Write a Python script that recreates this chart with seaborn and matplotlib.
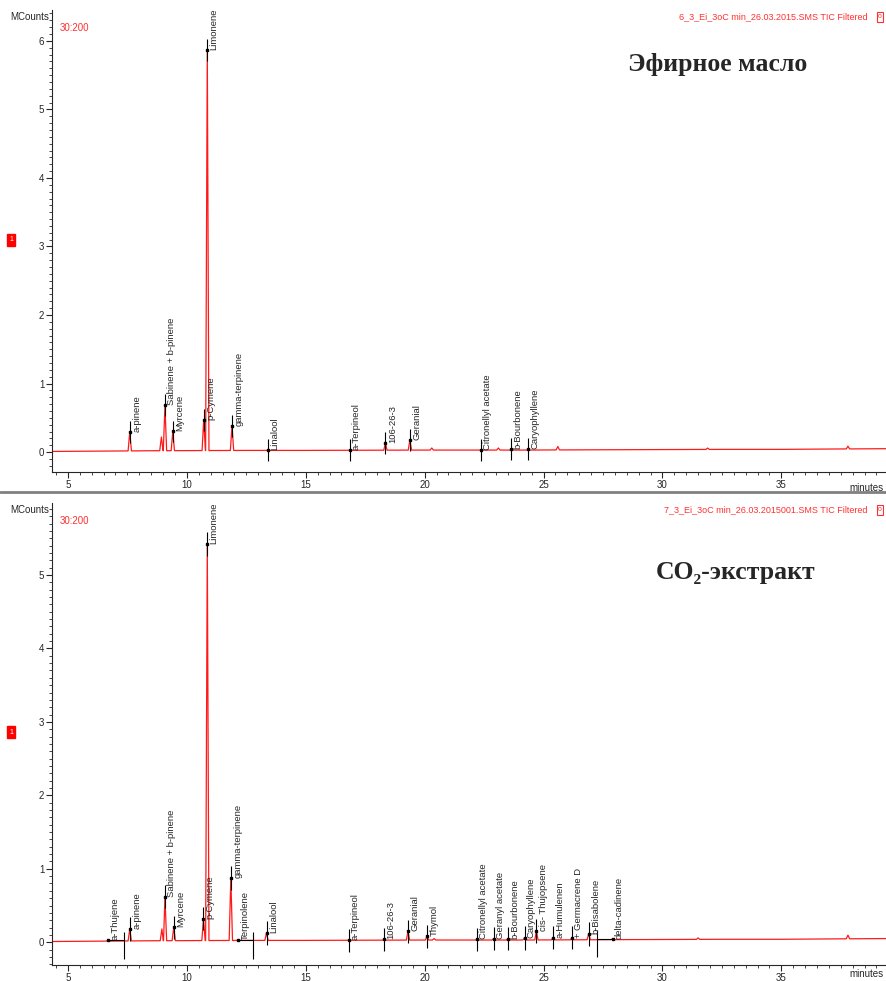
import numpy as np
import pandas as pd
import matplotlib
matplotlib.use("Agg")
import matplotlib.pyplot as plt
import seaborn as sns
from matplotlib.ticker import MultipleLocator

# cromatograma 1 (arriba): picos con etiqueta
top_names = ["a-pinene", "Sabinene + b-pinene", "Myrcene", "p-Cymene", "Limonene",
             "gamma-terpinene", "Linalool", "a-Terpineol", "106-26-3", "Geranial",
             "Citronellyl acetate", "b-Bourbonene", "Caryophyllene"]
top_rt = [7.6, 9.08, 9.41, 10.71, 10.86, 11.9, 13.4, 16.85, 18.35, 19.38, 22.35, 23.65, 24.35]
top_h = [0.28, 0.66, 0.28, 0.45, 5.85, 0.36, 0.0, 0.0, 0.1, 0.15, 0.0, 0.01, 0.01]
top_line_rt = top_rt  # posicion de la marca vertical
# picos sin etiqueta
top_extra_rt = [8.93, 20.3, 23.1, 25.6, 31.9, 37.8]
top_extra_h = [0.2, 0.03, 0.03, 0.05, 0.02, 0.04]
# linea base
top_base_t = [4.33, 6.5, 8.5, 12.5, 15.0, 20.0, 24.0, 28.0, 32.5, 35.0, 37.0, 39.4]
top_base_y = [0.01, 0.015, 0.02, 0.025, 0.025, 0.03, 0.03, 0.035, 0.04, 0.04, 0.045, 0.05]

# cromatograma 2 (abajo)
bot_names = ["a-Thujene", "a-pinene", "Sabinene + b-pinene", "Myrcene", "p-Cymene", "Limonene",
             "gamma-terpinene", "Terpinolene", "Linalool", "a-Terpineol", "106-26-3", "Geranial",
             "Thymol", "Citronellyl acetate", "Geranyl acetate", "b-Bourbonene", "Caryophyllene",
             "cis- Thujopsene", "a-Humulenen", "+ Germacrene D", "b-Bisabolene", "delta-cadinene"]
bot_rt = [6.68, 7.6, 9.08, 9.45, 10.7, 10.86, 11.85, 12.15, 13.35, 16.8, 18.3, 19.3,
          20.1, 22.2, 22.9, 23.5, 24.2, 24.7, 25.4, 26.2, 26.9, 27.9]
bot_h = [0.01, 0.16, 0.6, 0.18, 0.3, 5.4, 0.85, 0.0, 0.1, 0.0, 0.01, 0.12,
         0.05, 0.01, 0.02, 0.02, 0.03, 0.12, 0.03, 0.03, 0.08, 0.01]
bot_line_rt = [7.35, 7.6, 9.08, 9.45, 10.7, 10.86, 11.85, 12.8, 13.35, 16.8, 18.3, 19.3,
               20.1, 22.2, 22.9, 23.5, 24.2, 24.7, 25.4, 26.2, 26.9, 27.26]
bot_extra_rt = [8.95, 20.4, 31.5, 37.8]
bot_extra_h = [0.16, 0.02, 0.02, 0.05]
bot_base_t = [4.33, 6.5, 8.5, 12.5, 15.0, 20.0, 24.0, 28.0, 32.5, 35.0, 37.0, 39.4]
bot_base_y = [0.01, 0.015, 0.02, 0.025, 0.025, 0.03, 0.03, 0.035, 0.04, 0.04, 0.045, 0.05]

headers = ["6_3_Ei_3oC min_26.03.2015.SMS TIC Filtered",
           "7_3_Ei_3oC min_26.03.2015001.SMS TIC Filtered"]
titles = ["Эфирное масло", "CO₂-экстракт"]

sns.set_style("ticks")
plt.rcParams['font.family'] = ['Liberation Sans', 'DejaVu Sans']

fig = plt.figure(figsize=(8.86, 9.81), dpi=100)
W, H = 886, 981


def trace(rt, h, ert, eh, bt, by, w=0.07):
    # pico = triangulo estrecho sobre la linea base
    t = list(bt)
    y = list(by)
    for r, v in zip(list(rt) + list(ert), list(h) + list(eh)):
        b = np.interp(r, bt, by)
        t += [r - w, r, r + w]
        y += [b, b + v, b]
    return pd.DataFrame({"t": t, "y": y})


def panel(box, rt, h, lrt, ert, eh, bt, by, names, ylim, ymax_tick, header, title, title_y,
          marker_y):
    ax = fig.add_axes(box)
    df = trace(rt, h, ert, eh, bt, by)
    sns.lineplot(data=df, x="t", y="y", sort=True, estimator=None, color="#ff1a1a",
                 lw=0.9, ax=ax)
    base = np.interp(rt, bt, by)
    for r, v, b, n, lr in zip(rt, h, base, names, lrt):
        top = b + v
        if lr != r:
            # marca desplazada: linea vertical + tramo horizontal hasta el pico
            ax.vlines(lr, top - 0.25, top + 0.12, color="k", lw=0.8)
            ax.hlines(top, min(r, lr), max(r, lr), color="k", lw=0.8)
        else:
            ax.vlines(r, top - 0.16, top + 0.16, color="k", lw=0.8)
        ax.plot(r, top, "s", color="k", ms=2)
        ax.text(r + 0.1, top, n, rotation=90, va="bottom", ha="left", fontsize=6.8)
    ax.set_xlim(4.33, 39.4)
    ax.set_ylim(*ylim)
    ax.xaxis.set_major_locator(MultipleLocator(5))
    ax.xaxis.set_minor_locator(MultipleLocator(0.5))
    ax.set_yticks(range(0, ymax_tick + 1))
    ax.yaxis.set_minor_locator(MultipleLocator(0.1))
    ax.tick_params(which="major", length=4, width=0.8, labelsize=7, pad=1.5)
    ax.tick_params(which="minor", length=2, width=0.6)
    ax.set_xlabel("")
    ax.set_ylabel("")
    sns.despine(ax=ax)
    for s in ["left", "bottom"]:
        ax.spines[s].set_linewidth(0.8)
    # textos
    ax_top = 1 - box[1] - box[3]
    fig.text(10 / W, 1 - (ax_top * H + 2) / H, "MCounts", fontsize=7, va="top", ha="left")
    fig.text(60 / W, 1 - (ax_top * H + 18) / H, "30:200", fontsize=7, color="#ff3030",
             va="center", ha="left")
    fig.text(868 / W, 1 - (ax_top * H + 7) / H, header, fontsize=6.5, color="#ff3030",
             va="center", ha="right")
    fig.text(880 / W, 1 - (ax_top * H + 7) / H, "o", fontsize=5, color="#ff3030",
             va="center", ha="center",
             bbox=dict(boxstyle="square,pad=0.15", fc="white", ec="#ff3030", lw=0.8))
    fig.text(11 / W, marker_y, "1", fontsize=5, color="white", va="center", ha="center",
             bbox=dict(boxstyle="square,pad=0.3", fc="#ff0000", ec="#ff0000"))
    fig.text(884 / W, max(box[1] - 16 / H, 7 / H), "minutes", fontsize=7, va="center",
             ha="right")
    fig.text(title[1], title_y, title[0], fontsize=18.5, fontweight="bold",
             family=["Liberation Serif", "DejaVu Serif"], va="center", ha="center")
    return ax


panel([52 / W, 1 - 472 / H, 1 - 52 / W, (472 - 10) / H], top_rt, top_h, top_line_rt,
      top_extra_rt, top_extra_h, top_base_t, top_base_y, top_names, (-0.29, 6.45), 6,
      headers[0], (titles[0], 718 / W), 1 - 65 / H, 1 - 240 / H)
panel([52 / W, 1 - 965 / H, 1 - 52 / W, (965 - 503) / H], bot_rt, bot_h, bot_line_rt,
      bot_extra_rt, bot_extra_h, bot_base_t, bot_base_y, bot_names, (-0.31, 5.98), 5,
      headers[1], (titles[1], 736 / W), 1 - 572 / H, 1 - 732 / H)

# separador entre paneles
fig.add_artist(plt.Line2D([0, 1], [1 - 492 / H, 1 - 492 / H], color="#808080", lw=2))

fig.savefig("out.png", dpi=100)
